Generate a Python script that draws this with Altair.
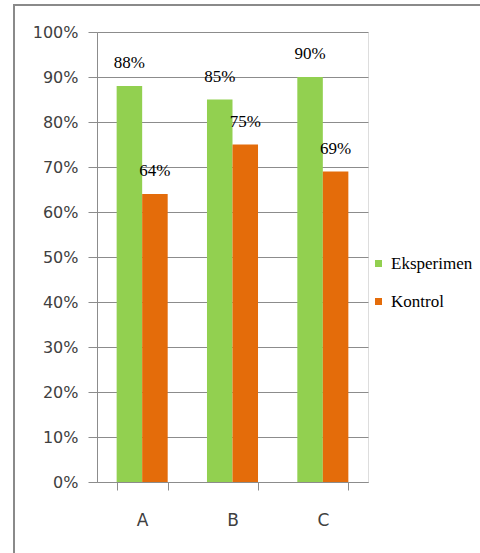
import altair as alt
import pandas as pd

categories = ["A", "B", "C"]
series = ["Eksperimen", "Kontrol"]
eksperimen = [0.88, 0.85, 0.90]
kontrol = [0.64, 0.75, 0.69]
y_ticks = [0, 0.1, 0.2, 0.3, 0.4, 0.5, 0.6, 0.7, 0.8, 0.9, 1.0]

rows = []
for c, e, k in zip(categories, eksperimen, kontrol):
    rows.append({"cat": c, "series": series[0], "val": e})
    rows.append({"cat": c, "series": series[1], "val": k})
df = pd.DataFrame(rows)

colors = ["#92D050", "#E46C0A"]

W, H = 271, 450
PL, PT = 97, 32

x_enc = alt.X("cat:N", title=None, sort=categories,
              scale=alt.Scale(paddingInner=0.435, paddingOuter=0.2175),
              axis=alt.Axis(labelAngle=0, labelFont="DejaVu Sans", labelFontSize=17,
                            labelColor="#404040", labelPadding=22, tickBand="extent",
                            tickSize=8, tickColor="#8c8c8c", domainColor="#8c8c8c",
                            ticks=True, grid=False))
y_enc = alt.Y("val:Q", title=None,
              scale=alt.Scale(domain=[0, 1], nice=False),
              axis=alt.Axis(values=y_ticks, format=".0%", labelFont="DejaVu Sans",
                            labelFontSize=16, labelColor="#404040", labelPadding=10,
                            tickSize=9, tickColor="#8c8c8c", domainColor="#8c8c8c",
                            gridColor="#8c8c8c", gridOpacity=1, grid=True))

base = alt.Chart(df).encode(
    x=x_enc,
    xOffset=alt.XOffset("series:N", sort=series),
    y=y_enc,
)

bars = base.mark_bar().encode(
    color=alt.Color("series:N", sort=series,
                    scale=alt.Scale(domain=series, range=colors),
                    legend=alt.Legend(title=None, orient="none", legendX=273, legendY=223,
                                      symbolType="square", symbolSize=49, symbolStrokeWidth=0,
                                      labelFont="Liberation Serif", labelFontSize=17,
                                      labelColor="#000000", labelOffset=4, rowPadding=20))
)

labels = base.mark_text(dy=-14, font="Liberation Serif", fontSize=17, color="#000000",
                        baseline="bottom").encode(
    text=alt.Text("val:Q", format=".0%")
)

frame_df = pd.DataFrame({"k": [0]})
frame_top = alt.Chart(frame_df).mark_rule(color="#8a8a8a", strokeWidth=2).encode(
    x=alt.value(-PL + 13), x2=alt.value(480 - PL), y=alt.value(-PT + 5)
)
frame_left = alt.Chart(frame_df).mark_rule(color="#8a8a8a", strokeWidth=2).encode(
    x=alt.value(-PL + 14), y=alt.value(-PT + 4), y2=alt.value(553 - PT)
)

chart = alt.layer(bars, labels, frame_top, frame_left).properties(
    width=W, height=H,
    autosize=alt.AutoSizeParams(type="none"),
    padding={"left": PL, "top": PT, "right": 480 - PL - W, "bottom": 553 - PT - H},
).configure_view(stroke=None).configure(background="white")

chart.save("out.html", embed_options={"renderer": "svg", "actions": False})
